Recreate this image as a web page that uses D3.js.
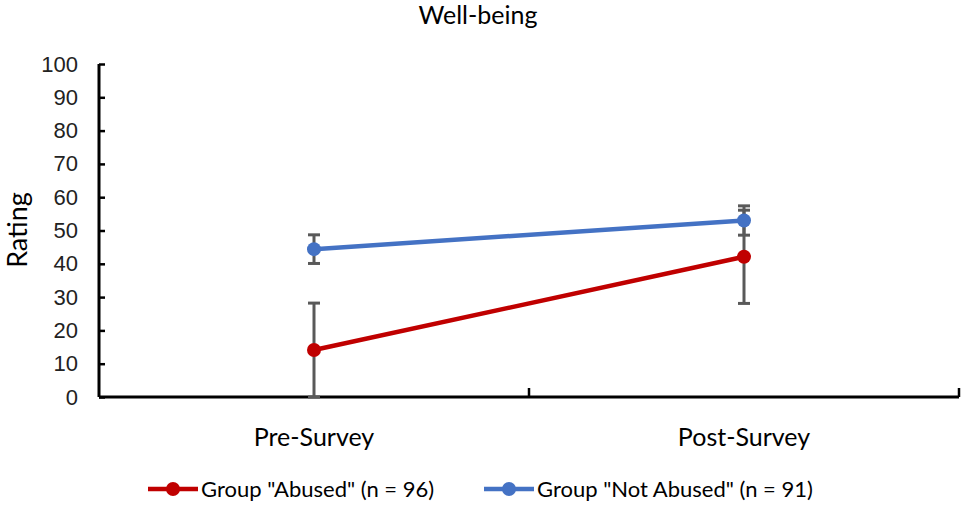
<!DOCTYPE html>
<html><head><meta charset="utf-8">
<script src="https://cdn.jsdelivr.net/npm/d3@7"></script>
<style>body{margin:0;background:#fff}svg{display:block;font-family:Lato,"Open Sans",sans-serif}</style>
</head><body><svg id="c" width="969" height="506"></svg>
<script>
const categories = ["Pre-Survey", "Post-Survey"];
const seriesNames = ['Group "Abused" (n = 96)', 'Group "Not Abused" (n = 91)'];
const abusedMean = [14.1, 42.1];
const abusedErr = [14.1, 14.0];
const notAbusedMean = [44.4, 53.0];
const notAbusedErr = [4.3, 4.4];
const yTicks = [0,10,20,30,40,50,60,70,80,90,100];
const colors = ["#C00000", "#4472C4"];

const svg = d3.select("#c");
const L = 99, R = 959, T = 64, B = 397;
const x = d3.scaleBand().domain(categories).range([L, R]);
const y = d3.scaleLinear().domain([0, 100]).range([B, T]);

svg.append("text").attr("x", 478).attr("y", 24).attr("text-anchor", "middle")
  .attr("font-size", 25).attr("fill", "#000").text("Well-being");

// y axis
const ya = svg.append("g").attr("transform", `translate(${L},0)`)
  .call(d3.axisLeft(y).tickValues(yTicks).tickSize(-6).tickPadding(22));
ya.select(".domain").attr("stroke", "#000").attr("stroke-width", 3).attr("d", `M0,${T}H0V${B}`);
ya.selectAll(".tick line").attr("stroke", "#000").attr("stroke-width", 2.5);
ya.selectAll(".tick text").attr("font-size", 22).attr("fill", "#222").attr("x", -21);

svg.append("text").attr("transform", "translate(27,230) rotate(-90)").attr("text-anchor", "middle")
  .attr("font-size", 27).attr("fill", "#000").text("Rating");

// x axis
svg.append("line").attr("x1", L).attr("x2", R).attr("y1", B).attr("y2", B)
  .attr("stroke", "#000").attr("stroke-width", 3);
const bounds = [x(categories[1]), R];
bounds.forEach(b => svg.append("line").attr("x1", b).attr("x2", b).attr("y1", B).attr("y2", B - 9)
  .attr("stroke", "#000").attr("stroke-width", 2.5));
categories.forEach(c => svg.append("text").attr("x", x(c) + x.bandwidth() / 2).attr("y", 446)
  .attr("text-anchor", "middle").attr("font-size", 25).attr("fill", "#000").text(c));

const cx = c => x(c) + x.bandwidth() / 2;
const series = [
  {m: abusedMean, e: abusedErr, col: colors[0]},
  {m: notAbusedMean, e: notAbusedErr, col: colors[1]}
];
const line = d3.line().x((d, i) => cx(categories[i])).y(d => y(d));
series.forEach(s => {
  svg.append("path").attr("d", line(s.m)).attr("fill", "none").attr("stroke", s.col).attr("stroke-width", 4.5);
});
// error bars
series.forEach(s => {
  s.m.forEach((v, i) => {
    const xx = cx(categories[i]);
    const lo = y(Math.max(0, v - s.e[i])), hi = y(v + s.e[i]);
    svg.append("line").attr("x1", xx).attr("x2", xx).attr("y1", lo).attr("y2", hi)
      .attr("stroke", "#595959").attr("stroke-width", 3);
    [lo, hi].forEach(yy => svg.append("line").attr("x1", xx - 6).attr("x2", xx + 6).attr("y1", yy).attr("y2", yy)
      .attr("stroke", "#595959").attr("stroke-width", 3));
  });
});
series.forEach(s => {
  s.m.forEach((v, i) => svg.append("circle").attr("cx", cx(categories[i])).attr("cy", y(v)).attr("r", 7).attr("fill", s.col));
});

// legend
const leg = [{x0: 148, tx: 201}, {x0: 484, tx: 537}];
seriesNames.forEach((n, i) => {
  const g = svg.append("g");
  g.append("line").attr("x1", leg[i].x0).attr("x2", leg[i].x0 + 50).attr("y1", 489).attr("y2", 489)
    .attr("stroke", colors[i]).attr("stroke-width", 4.5);
  g.append("circle").attr("cx", leg[i].x0 + 25).attr("cy", 489).attr("r", 7).attr("fill", colors[i]);
  g.append("text").attr("x", leg[i].tx).attr("y", 497).attr("font-size", 22).attr("fill", "#000").text(n);
});
</script></body></html>
